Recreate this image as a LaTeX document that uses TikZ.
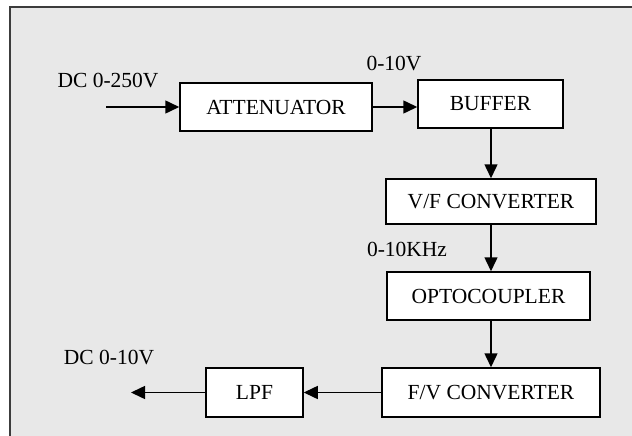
\documentclass[tikz,border=0pt]{standalone}
\usepackage{fontspec}
\setmainfont{Liberation Serif}
\usetikzlibrary{arrows.meta}
\begin{document}
\begin{tikzpicture}[x=1pt,y=-1pt,
  blk/.style={draw=black, fill=white, line width=1.5pt, inner sep=0pt, font=\fontsize{21.5}{24}\selectfont},
  lbl/.style={inner sep=0pt, font=\fontsize{21.5}{24}\selectfont},
  arr/.style={line width=1.5pt, -{Triangle[length=14pt,width=13pt]}}]
\useasboundingbox (0,0) rectangle (632,436);
\begin{scope}
\clip (0,0) rectangle (632,436);
\draw[fill={rgb,255:red,232;green,232;blue,232}, draw={rgb,255:red,60;green,60;blue,60}, line width=1.2pt] (10,7) rectangle (660,460);
\end{scope}
\node[blk, minimum width=192pt, minimum height=48pt] (att) at (276,107) {ATTENUATOR};
\node[blk, minimum width=145pt, minimum height=48pt] (buf) at (490.5,104) {BUFFER};
\node[blk, minimum width=210pt, minimum height=45pt] (vf) at (491,201.5) {V/F CONVERTER};
\node[blk, minimum width=203pt, minimum height=48pt] (opto) at (488.5,296) {OPTOCOUPLER};
\node[blk, minimum width=218pt, minimum height=49pt] (fv) at (491,392.5) {F/V CONVERTER};
\node[blk, minimum width=97pt, minimum height=49pt] (lpf) at (254.5,392.5) {LPF};
\coordinate (in) at (106,107);
\coordinate (out) at (131,392.5);
\node[lbl] (l1) at (108,81) {DC 0-250V};
\node[lbl] (l2) at (394,64) {0-10V};
\node[lbl] (l3) at (407,249) {0-10KHz};
\node[lbl] (l4) at (109,358) {DC 0-10V};
\draw[arr] (in) -- (att.west);
\draw[arr] (att.east) -- (att.east -| buf.west);
\draw[arr] (buf.south -| vf.north) -- (vf.north);
\draw[arr] (vf.south) -- (vf.south |- opto.north);
\draw[arr] (vf.south |- opto.south) -- (vf.south |- fv.north);
\draw[arr] (fv.west) -- (lpf.east);
\draw[arr] (lpf.west) -- (out);
\end{tikzpicture}
\end{document}
